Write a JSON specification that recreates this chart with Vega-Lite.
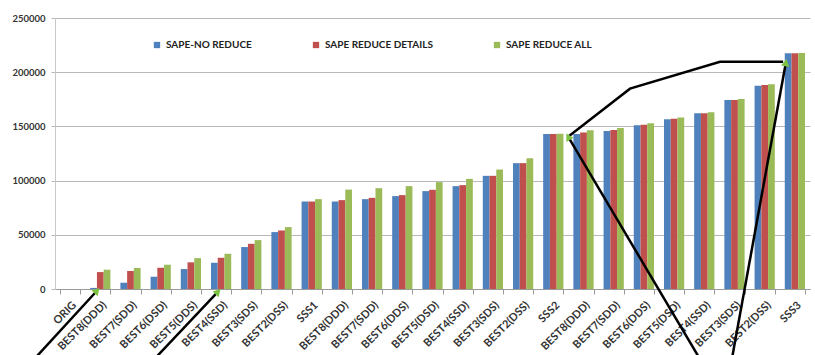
{
  "$schema": "https://vega.github.io/schema/vega-lite/v6.json",
  "width": 755,
  "height": 271,
  "autosize": {"type": "none"},
  "padding": {"left": 55, "top": 18, "right": 5, "bottom": 66},
  "background": "white",
  "config": {
    "font": "Lato",
    "view": {"stroke": null},
    "axis": {"labelFont": "Lato", "labelFontWeight": "bold", "labelColor": "#333333"},
    "axisY": {
      "title": null,
      "values": [0, 50000, 100000, 150000, 200000, 250000],
      "format": "d",
      "labelFontSize": 9.5,
      "labelPadding": 6,
      "ticks": true,
      "tickSize": 4,
      "tickColor": "#b8b8b8",
      "domainColor": "#c8c8c8",
      "gridColor": "#b8b8b8"
    }
  },
  "datasets": {
    "bars": [
      {"key": "ORIG", "SAPE-NO REDUCE": 0, "SAPE REDUCE DETAILS": 0, "SAPE REDUCE ALL": 0},
      {"key": "BEST8(DDD)", "SAPE-NO REDUCE": 1000, "SAPE REDUCE DETAILS": 15600, "SAPE REDUCE ALL": 17800},
      {"key": "BEST7(SDD)", "SAPE-NO REDUCE": 5800, "SAPE REDUCE DETAILS": 16600, "SAPE REDUCE ALL": 19400},
      {"key": "BEST6(DSD)", "SAPE-NO REDUCE": 11300, "SAPE REDUCE DETAILS": 19600, "SAPE REDUCE ALL": 22400},
      {"key": "BEST5(DDS)", "SAPE-NO REDUCE": 18400, "SAPE REDUCE DETAILS": 24600, "SAPE REDUCE ALL": 28500},
      {"key": "BEST4(SSD)", "SAPE-NO REDUCE": 24200, "SAPE REDUCE DETAILS": 28800, "SAPE REDUCE ALL": 32500},
      {"key": "BEST3(SDS)", "SAPE-NO REDUCE": 38700, "SAPE REDUCE DETAILS": 41700, "SAPE REDUCE ALL": 45100},
      {"key": "BEST2(DSS)", "SAPE-NO REDUCE": 52500, "SAPE REDUCE DETAILS": 54000, "SAPE REDUCE ALL": 57100},
      {"key": "SSS1", "SAPE-NO REDUCE": 80700, "SAPE REDUCE DETAILS": 80700, "SAPE REDUCE ALL": 82900},
      {"key": "BEST8(DDD)#2", "SAPE-NO REDUCE": 80700, "SAPE REDUCE DETAILS": 82000, "SAPE REDUCE ALL": 91700},
      {"key": "BEST7(SDD)#2", "SAPE-NO REDUCE": 82900, "SAPE REDUCE DETAILS": 84100, "SAPE REDUCE ALL": 93000},
      {"key": "BEST6(DDS)#2", "SAPE-NO REDUCE": 85700, "SAPE REDUCE DETAILS": 86600, "SAPE REDUCE ALL": 94900},
      {"key": "BEST5(DSD)#2", "SAPE-NO REDUCE": 90300, "SAPE REDUCE DETAILS": 91500, "SAPE REDUCE ALL": 98600},
      {"key": "BEST4(SSD)#2", "SAPE-NO REDUCE": 94900, "SAPE REDUCE DETAILS": 95800, "SAPE REDUCE ALL": 101600},
      {"key": "BEST3(SDS)#2", "SAPE-NO REDUCE": 104400, "SAPE REDUCE DETAILS": 104400, "SAPE REDUCE ALL": 110200},
      {"key": "BEST2(DSS)#2", "SAPE-NO REDUCE": 116100, "SAPE REDUCE DETAILS": 116100, "SAPE REDUCE ALL": 120700},
      {"key": "SSS2", "SAPE-NO REDUCE": 143000, "SAPE REDUCE DETAILS": 143000, "SAPE REDUCE ALL": 143300},
      {"key": "BEST8(DDD)#3", "SAPE-NO REDUCE": 143000, "SAPE REDUCE DETAILS": 144300, "SAPE REDUCE ALL": 146400},
      {"key": "BEST7(SDD)#3", "SAPE-NO REDUCE": 145800, "SAPE REDUCE DETAILS": 146700, "SAPE REDUCE ALL": 148600},
      {"key": "BEST6(DDS)#3", "SAPE-NO REDUCE": 151000, "SAPE REDUCE DETAILS": 151600, "SAPE REDUCE ALL": 152900},
      {"key": "BEST5(DSD)#3", "SAPE-NO REDUCE": 156600, "SAPE REDUCE DETAILS": 157100, "SAPE REDUCE ALL": 158100},
      {"key": "BEST4(SSD)#3", "SAPE-NO REDUCE": 162100, "SAPE REDUCE DETAILS": 162100, "SAPE REDUCE ALL": 163000},
      {"key": "BEST3(SDS)#3", "SAPE-NO REDUCE": 174400, "SAPE REDUCE DETAILS": 174400, "SAPE REDUCE ALL": 175300},
      {"key": "BEST2(DSS)#3", "SAPE-NO REDUCE": 187500, "SAPE REDUCE DETAILS": 188200, "SAPE REDUCE ALL": 188800},
      {"key": "SSS3", "SAPE-NO REDUCE": 217400, "SAPE REDUCE DETAILS": 217400, "SAPE REDUCE ALL": 217600}
    ],
    "ann": [
      {"line": "a", "step": 0, "ax": -0.6, "ay": -62000},
      {"line": "a", "step": 1, "ax": 1.39, "ay": -1600},
      {"line": "b", "step": 0, "ax": 3.38, "ay": -62000},
      {"line": "b", "step": 1, "ax": 5.4, "ay": -2500},
      {"line": "c", "step": 0, "ax": 16.99, "ay": 140500},
      {"line": "c", "step": 1, "ax": 19.04, "ay": 184800},
      {"line": "c", "step": 2, "ax": 22.02, "ay": 209700},
      {"line": "c", "step": 3, "ax": 24.11, "ay": 209700},
      {"line": "d", "step": 0, "ax": 16.99, "ay": 140500},
      {"line": "d", "step": 1, "ax": 21.3, "ay": -62000},
      {"line": "e", "step": 0, "ax": 22.43, "ay": -62000},
      {"line": "e", "step": 1, "ax": 24.2, "ay": 208800}
    ],
    "heads": [
      {"id": "a", "ax": 1.39, "ay": -1600},
      {"id": "b", "ax": 5.4, "ay": -2500},
      {"id": "d", "ax": 16.99, "ay": 140500},
      {"id": "e", "ax": 24.2, "ay": 208800}
    ]
  },
  "layer": [
    {
      "data": {"name": "bars"},
      "transform": [
        {"fold": ["SAPE-NO REDUCE", "SAPE REDUCE DETAILS", "SAPE REDUCE ALL"], "as": ["series", "value"]}
      ],
      "mark": {"type": "bar"},
      "encoding": {
        "x": {
          "field": "key", "type": "nominal", "sort": null,
          "scale": {"paddingInner": 0.33, "paddingOuter": 0.165},
          "axis": {
            "title": null,
            "labelExpr": "split(datum.label, '#')[0]",
            "labelAngle": -45,
            "labelFontSize": 11,
            "labelPadding": 5,
            "domainColor": "#9a9a9a",
            "tickColor": "#9a9a9a",
            "tickBand": "extent",
            "tickSize": 5,
            "labelOverlap": false
          }
        },
        "xOffset": {
          "field": "series", "type": "nominal",
          "scale": {"domain": ["SAPE-NO REDUCE", "SAPE REDUCE DETAILS", "SAPE REDUCE ALL"]}
        },
        "y": {
          "field": "value", "type": "quantitative", "title": null,
          "scale": {"domain": [0, 250000], "nice": false}
        },
        "color": {
          "field": "series", "type": "nominal",
          "scale": {
            "domain": ["SAPE-NO REDUCE", "SAPE REDUCE DETAILS", "SAPE REDUCE ALL"],
            "range": ["#4F81BD", "#C0504D", "#9BBB59"]
          },
          "legend": {
            "title": null,
            "orient": "none",
            "legendX": 97,
            "legendY": 22,
            "direction": "horizontal",
            "symbolType": "square",
            "symbolSize": 40,
            "symbolStrokeWidth": 0,
            "labelFont": "Lato",
            "labelFontSize": 10,
            "labelFontWeight": "bold",
            "labelColor": "#222222",
            "labelOffset": 4,
            "columnPadding": 59
          }
        }
      }
    },
    {
      "layer": [
        {
          "data": {"name": "ann"},
          "mark": {"type": "line", "color": "black", "strokeWidth": 2.5, "clip": false},
          "encoding": {
            "x": {"field": "ax", "type": "quantitative", "scale": {"domain": [0, 25], "nice": false, "zero": false}, "axis": null},
            "y": {"field": "ay", "type": "quantitative", "title": null, "scale": {"domain": [0, 250000], "nice": false}},
            "detail": {"field": "line"},
            "order": {"field": "step"}
          }
        },
        {
          "data": {"name": "heads"},
          "transform": [{"filter": "datum.id === 'a' || datum.id === 'b'"}],
          "mark": {"type": "point", "shape": "triangle-up", "filled": true, "color": "#7DC242", "opacity": 1, "size": 70, "angle": 43, "clip": false},
          "encoding": {
            "x": {"field": "ax", "type": "quantitative", "scale": {"domain": [0, 25], "nice": false, "zero": false}, "axis": null},
            "y": {"field": "ay", "type": "quantitative", "title": null, "scale": {"domain": [0, 250000], "nice": false}}
          }
        },
        {
          "data": {"name": "heads"},
          "transform": [{"filter": "datum.id === 'd'"}],
          "mark": {"type": "point", "shape": "triangle-up", "filled": true, "color": "#7DC242", "opacity": 1, "size": 70, "angle": -31, "clip": false},
          "encoding": {
            "x": {"field": "ax", "type": "quantitative", "scale": {"domain": [0, 25], "nice": false, "zero": false}, "axis": null},
            "y": {"field": "ay", "type": "quantitative", "title": null, "scale": {"domain": [0, 250000], "nice": false}}
          }
        },
        {
          "data": {"name": "heads"},
          "transform": [{"filter": "datum.id === 'e'"}],
          "mark": {"type": "point", "shape": "triangle-up", "filled": true, "color": "#7DC242", "opacity": 1, "size": 70, "angle": 10, "clip": false},
          "encoding": {
            "x": {"field": "ax", "type": "quantitative", "scale": {"domain": [0, 25], "nice": false, "zero": false}, "axis": null},
            "y": {"field": "ay", "type": "quantitative", "title": null, "scale": {"domain": [0, 250000], "nice": false}}
          }
        }
      ]
    }
  ],
  "resolve": {"scale": {"x": "independent"}}
}
